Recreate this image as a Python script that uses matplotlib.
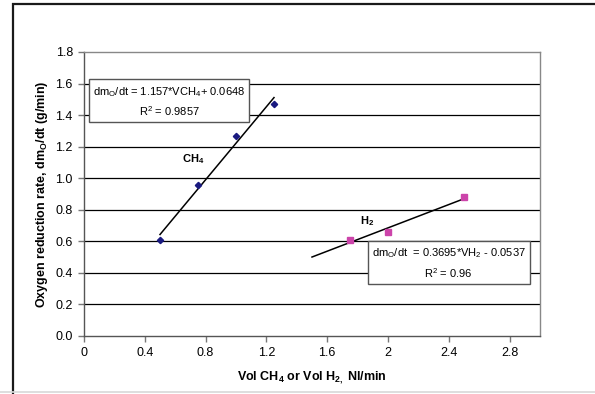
import matplotlib
matplotlib.use("Agg")
import numpy as np
import matplotlib.pyplot as plt

plt.rcParams['font.family'] = ['Liberation Sans', 'DejaVu Sans']
plt.rcParams['mathtext.fontset'] = 'custom'
plt.rcParams['mathtext.rm'] = 'Liberation Sans'
plt.rcParams['mathtext.it'] = 'Liberation Sans'
plt.rcParams['mathtext.bf'] = 'Liberation Sans:bold'

# data
ch4_flow = [0.5, 0.75, 1.0, 1.25]
ch4_rate = [0.61, 0.96, 1.27, 1.47]
h2_flow = [1.75, 2.0, 2.5]
h2_rate = [0.61, 0.66, 0.88]

ch4_fit = (1.157, 0.0648)
h2_fit = (0.3695, -0.0537)
ch4_fit_range = [0.5, 1.25]
h2_fit_range = [1.5, 2.5]

xticks = [0, 0.4, 0.8, 1.2, 1.6, 2, 2.4, 2.8]
xticklabels = ["0", "0.4", "0.8", "1.2", "1.6", "2", "2.4", "2.8"]
yticks = [0.0, 0.2, 0.4, 0.6, 0.8, 1.0, 1.2, 1.4, 1.6, 1.8]

fig = plt.figure(figsize=(5.95, 3.94), dpi=100)

# background axes for the outer frame, in pixel units
bg = fig.add_axes([0, 0, 1, 1], zorder=-1)
bg.set_xlim(0, 595)
bg.set_ylim(394, 0)
bg.axis('off')
bg.plot([12, 596], [3.5, 3.5], color='#1a1a1a', lw=1.6, clip_on=False, solid_capstyle='butt')
bg.plot([12.5, 12.5], [3, 395], color='#1a1a1a', lw=1.6, clip_on=False, solid_capstyle='butt')
bg.plot([0, 595], [392, 392], color='#d8d8d8', lw=1.2, clip_on=False)

ax = fig.add_axes([84/595, 58/394, 456/595, 284/394])

for v in yticks[1:-1]:
    ax.axhline(v, color='black', lw=0.9, zorder=1)

# trendlines
xf = np.array(ch4_fit_range)
ax.plot(xf, ch4_fit[0]*xf + ch4_fit[1], color='black', lw=1.1, zorder=2)
xf = np.array(h2_fit_range)
ax.plot(xf, h2_fit[0]*xf + h2_fit[1], color='black', lw=1.1, zorder=2)

ax.plot(ch4_flow, ch4_rate, 'D', color='#1a1a80', ms=3.2, ls='none', zorder=3)
ax.plot(h2_flow, h2_rate, 's', color='#cc44aa', ms=4, ls='none', zorder=3)

ax.set_xlim(0, 3)
ax.set_ylim(0, 1.8)
ax.set_xticks(xticks)
ax.set_xticklabels(xticklabels, fontsize=9)
ax.set_yticks(yticks)
ax.set_yticklabels([f"{v:.1f}" for v in yticks], fontsize=9)
ax.tick_params(axis='both', direction='out', length=4, color='#777777', width=1, pad=4)
for s in ax.spines.values():
    s.set_color('#888888')
    s.set_linewidth(1)
ax.spines['left'].set_color('#555555')
ax.spines['bottom'].set_color('#555555')

ax.set_xlabel("Vol CH$_\\mathbf{4}$ or Vol H$_\\mathbf{2,}$ Nl/min", fontsize=9, fontweight='bold', labelpad=7)
ax.set_ylabel("Oxygen reduction rate, dm$_\\mathbf{O}$/dt (g/min)", fontsize=9, fontweight='bold', labelpad=4)

box = dict(boxstyle='square,pad=0.35', fc='white', ec='#555555', lw=1)
ax.text(0.56, 1.485, "dm$_\\mathrm{O}$/dt = 1.157*VCH$_\\mathrm{4}$+ 0.0648\nR$^\\mathrm{2}$ = 0.9857",
        fontsize=8, ha='center', va='center', linespacing=1.5, bbox=box, zorder=5)
ax.text(2.40, 0.46, "dm$_\\mathrm{O}$/dt  = 0.3695*VH$_\\mathrm{2}$ - 0.0537\nR$^\\mathrm{2}$ = 0.96",
        fontsize=8, ha='center', va='center', linespacing=1.5, bbox=box, zorder=5)

ax.text(0.72, 1.12, "CH$_\\mathbf{4}$", fontsize=8, fontweight='bold', ha='center', va='center')
ax.text(1.86, 0.73, "H$_\\mathbf{2}$", fontsize=8, fontweight='bold', ha='center', va='center')

fig.savefig("out.png", dpi=100)
